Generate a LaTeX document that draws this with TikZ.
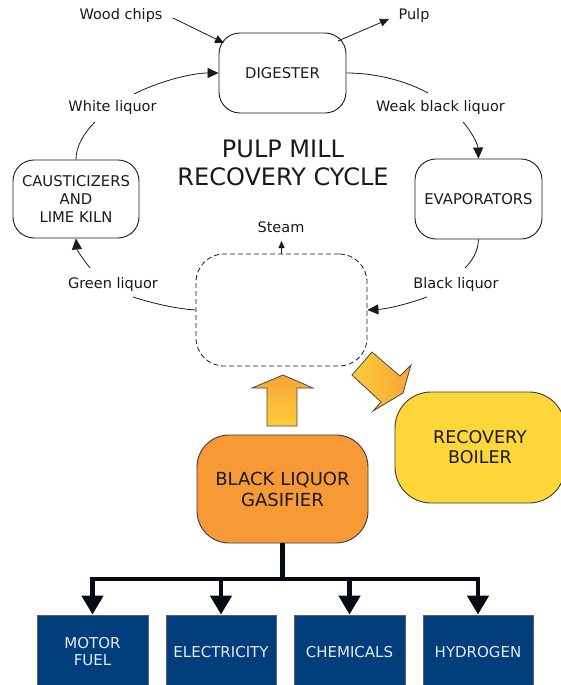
\documentclass[tikz,border=0pt]{standalone}
\usepackage{fontspec}
\setmainfont{DejaVu Sans}
\usetikzlibrary{arrows.meta}
\definecolor{ink}{HTML}{1A1A1A}
\definecolor{treeink}{HTML}{060A12}
\definecolor{gasorange}{HTML}{F79A35}
\definecolor{boilyellow}{HTML}{FDD73A}
\definecolor{navy}{HTML}{023D7C}
\definecolor{navytext}{HTML}{E4EAF1}
\definecolor{navyedge}{HTML}{5A5F66}
\definecolor{fatyellow}{HTML}{FDCD3A}
\definecolor{fatorange}{HTML}{F7A436}
\begin{document}
\begin{tikzpicture}[x=1pt,y=-1pt,
  lbl/.style={font=\fontsize{14.5}{17}\selectfont, text=ink, inner sep=0pt},
  cyc/.style={draw=ink, line width=0.9pt, rounded corners=21pt, inner sep=0pt,
    minimum width=127pt, minimum height=80pt, align=center, text=ink,
    font=\fontsize{14.8}{18}\selectfont},
  bigbox/.style={draw=ink!85, line width=0.9pt, rounded corners=32pt, inner sep=0pt,
    minimum width=171pt, minimum height=108pt, align=center, text=ink,
    font=\fontsize{18}{21}\selectfont},
  outbox/.style={draw=navyedge, line width=0.8pt, fill=navy, text=navytext, inner sep=0pt,
    minimum width=111pt, minimum height=74pt, align=center,
    font=\fontsize{15}{17}\selectfont},
  conn/.style={draw=ink, line width=0.8pt},
  arr/.style={conn, -{Triangle[length=11pt,width=10pt]}},
  sarr/.style={conn, -{Triangle[length=9pt,width=8pt]}},
  tarr/.style={conn, -{Triangle[length=7pt,width=6pt]}},
  tree/.style={draw=treeink, line width=4.5pt},
  treearr/.style={tree, -{Triangle[length=19pt,width=21pt]}},
  fatarrow/.style={draw=ink!80, line width=0.8pt, line join=miter}
]
\useasboundingbox (0,0) rectangle (560,685);

% cycle boxes
\node[cyc] (dig) at (282.5,73) {DIGESTER};
\node[cyc, minimum width=126pt, minimum height=78pt] (caus) at (76,199) {CAUSTICIZERS\\AND\\LIME KILN};
\node[cyc] (evap) at (478.5,199) {EVAPORATORS};
\node[draw=ink, line width=0.8pt, dash pattern=on 5pt off 3pt, rounded corners=28pt,
  minimum width=171pt, minimum height=112pt, inner sep=0pt] (dash) at (281.5,310) {};

% title
\node[align=center, text=ink, font=\fontsize{24}{28}\selectfont, inner sep=0pt] (title) at (283,163)
  {PULP MILL\\RECOVERY CYCLE};

% labels
\node[lbl] (wood) at (121,16) {Wood chips};
\node[lbl] (pulp) at (414,16) {Pulp};
\node[lbl] (white) at (112.5,107) {White liquor};
\node[lbl] (weak) at (440.5,107) {Weak black liquor};
\node[lbl] (green) at (113,284) {Green liquor};
\node[lbl] (black) at (456,284) {Black liquor};
\node[lbl] (steam) at (281,227) {Steam};

% connector end points
\coordinate (wcS) at (173,18);
\coordinate (wcE) at (224,43);
\coordinate (puS) at (338,41);
\coordinate (puE) at (389,19);
\coordinate (whA) at (134,94);
\coordinate (whB) at (95,122);
\coordinate (wkA) at (428,93);
\coordinate (wkB) at (463,122);
\coordinate (grA) at (90,268);
\coordinate (grB) at (133,297);
\coordinate (blA) at (465,268);
\coordinate (blB) at (427,297);
\coordinate (stE) at (281.5,241);

% connectors
\draw[sarr] (wcS) -- (wcE);
\draw[sarr] (puS) -- (puE);
\draw[arr] (whA) .. controls (160,81) and (192,73) .. (dig.west);
\draw[conn] (whB) .. controls (84,133) and (76,146) .. (caus.north);
\draw[conn] (dig.east) .. controls (380,73) and (410,83) .. (wkA);
\draw[arr] (wkB) .. controls (472,132) and (478,145) .. (evap.north);
\draw[arr] (grA) .. controls (83,259) and (77,250) .. (caus.south);
\draw[conn] (grB) .. controls (158,305) and (180,309) .. (dash.west);
\draw[conn] (evap.south) .. controls (478,252) and (472,261) .. (blA);
\draw[arr] (blB) .. controls (405,305) and (386,309) .. (dash.east);
\draw[tarr] (dash.north) -- (stE);

% gasifier and boiler
\node[bigbox, fill=gasorange] (gas) at (282.5,489) {BLACK LIQUOR\\GASIFIER};
\node[bigbox, fill=boilyellow, minimum width=170pt, minimum height=111pt, rounded corners=36pt,
  font=\fontsize{17.5}{20}\selectfont] (boil) at (480,447.5) {RECOVERY\\BOILER};

% fat arrows
\path[fatarrow, top color=fatorange, bottom color=fatyellow]
  (267,426) -- (267,388) -- (252,388) -- (283,375) -- (313,388) -- (297,388) -- (297,426) -- cycle;
\path[fatarrow, left color=fatyellow, right color=fatorange]
  (352,375) -- (372,352) -- (400,376) -- (411,365) -- (403,393) -- (373,411) -- (381,402) -- cycle;

% products
\node[outbox] (mf) at (92.5,652) {MOTOR\\FUEL};
\node[outbox, minimum width=110pt] (el) at (221,652) {ELECTRICITY};
\node[outbox] (ch) at (349.5,652) {CHEMICALS};
\node[outbox, minimum width=110pt] (hy) at (478,652) {HYDROGEN};

\coordinate (hub) at (282.5,579);
\draw[tree] (gas.south) -- (hub);
\draw[treearr] (hub) -| (mf.north);
\draw[treearr] (hub) -| (el.north);
\draw[treearr] (hub) -| (ch.north);
\draw[treearr] (hub) -| (hy.north);
\end{tikzpicture}
\end{document}
